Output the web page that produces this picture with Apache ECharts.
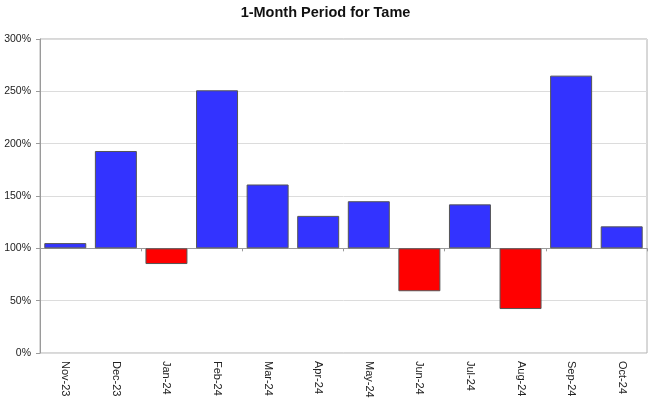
<!DOCTYPE html>
<html><head><meta charset="utf-8">
<script src="https://cdn.jsdelivr.net/npm/echarts@6/dist/echarts.min.js"></script>
<style>html,body{margin:0;padding:0;background:#fff}#c{width:651px;height:401px}</style>
</head><body><div id="c"></div>
<script>
const categories = ['Nov-23','Dec-23','Jan-24','Feb-24','Mar-24','Apr-24','May-24','Jun-24','Jul-24','Aug-24','Sep-24','Oct-24'];
const values = [105, 193, 85, 251, 161, 131, 145, 59, 142, 42, 265, 121];
const baseline = 100;
const yTicks = [0, 50, 100, 150, 200, 250, 300];

const chart = echarts.init(document.getElementById('c'), null, {renderer: 'canvas'});
chart.setOption({
  animation: false,
  title: {text: '1-Month Period for Tame', left: 'center', top: 5, padding: [0, 0, 0, 0],
    textStyle: {fontFamily: 'Liberation Sans, Arial', fontSize: 14.5, fontWeight: 'bold', color: '#111'}},
  grid: {left: 40, right: 4, top: 39, bottom: 48, show: true, borderColor: '#b0b0b0', borderWidth: 1, containLabel: false},
  xAxis: [{
    type: 'category', data: categories, boundaryGap: true,
    axisLine: {onZero: true, lineStyle: {color: '#9a9a9a'}},
    axisTick: {show: true, length: 3, inside: false, lineStyle: {color: '#9a9a9a'}},
    axisLabel: {show: false}, splitLine: {show: false}
  }, {
    type: 'category', data: categories, position: 'bottom', boundaryGap: true,
    axisLine: {show: false}, axisTick: {show: false},
    axisLabel: {rotate: -90, interval: 0, margin: 8, fontFamily: 'Liberation Sans, Arial', fontSize: 11, color: '#222'}
  }],
  yAxis: {
    type: 'value', min: yTicks[0] - baseline, max: yTicks[yTicks.length-1] - baseline, interval: 50,
    axisLine: {show: true, lineStyle: {color: '#9a9a9a'}},
    axisTick: {show: true, length: 4, lineStyle: {color: '#9a9a9a'}},
    axisLabel: {formatter: v => (v + baseline) + '%', fontFamily: 'Liberation Sans, Arial', fontSize: 10.5, color: '#222', margin: 9},
    splitLine: {show: true, lineStyle: {color: '#dcdcdc'}}
  },
  series: [{
    type: 'bar', xAxisIndex: 0, barCategoryGap: '17%',
    data: values.map(v => ({value: v - baseline,
      itemStyle: {color: v >= baseline ? '#3333FF' : '#FF0000', borderColor: '#555', borderWidth: 1}}))
  }]
});
</script></body></html>
